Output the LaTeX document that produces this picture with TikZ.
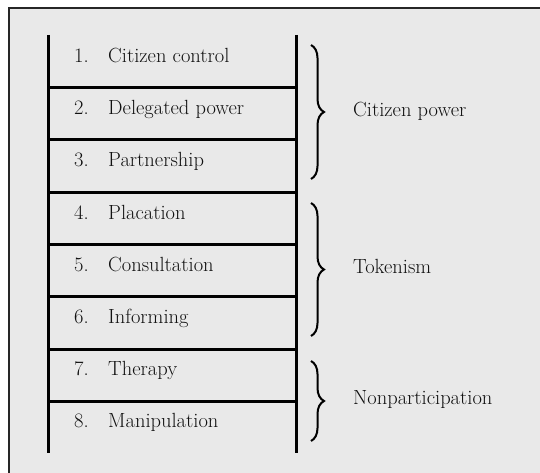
\documentclass[tikz,border=0pt]{standalone}
\usetikzlibrary{decorations.pathreplacing}
\definecolor{bgc}{HTML}{E9E9E9}
\definecolor{txt}{HTML}{111111}
\begin{document}
\begin{tikzpicture}[x=1pt,y=-1pt,
  rail/.style={line width=3pt,black},
  rung/.style={line width=3pt,black},
  lbl/.style={anchor=base west,inner sep=0pt,text=txt,font=\fontsize{20.5}{24}\selectfont},
  grp/.style={anchor=base west,inner sep=0pt,text=txt,font=\fontsize{20.5}{24}\selectfont},
  brc/.style={decorate,decoration={brace,amplitude=13pt,aspect=0.5},line width=2pt,black}]
\useasboundingbox (0,0) rectangle (540,473);
\fill[bgc] (9,8) rectangle (540,473);
\draw[line width=1.5pt,black!85] (9,473) -- (9,8) -- (540,8);
% rails
\coordinate (lt) at (48,35);
\coordinate (lb) at (48,453);
\coordinate (rt) at (296,35);
\coordinate (rb) at (296,453);
\draw[rail] (lt) -- (lb);
\draw[rail] (rt) -- (rb);
% rungs
\foreach \i/\y in {1/88,2/140,3/192,4/244,5/296,6/349,7/401}{
  \coordinate (a\i) at (48,\y);
  \coordinate (b\i) at (296,\y);
  \draw[rung] (a\i) -- (b\i);
}
% rows
\foreach \i/\y/\t in {1/63/Citizen control,2/115/Delegated power,3/167/Partnership,4/219/Placation,5/271/Consultation,6/323/Informing,7/375/Therapy,8/427/Manipulation}{
  \node[lbl] (n\i) at (74,\y) {\i.};
  \node[lbl] (t\i) at (108,\y) {\t};
}
% braces
\coordinate (c1t) at (311,45);
\coordinate (c1b) at (311,179);
\coordinate (c2t) at (311,203);
\coordinate (c2b) at (311,336);
\coordinate (c3t) at (311,361);
\coordinate (c3b) at (311,441);
\draw[brc] (c1t) -- (c1b);
\draw[brc] (c2t) -- (c2b);
\draw[brc] (c3t) -- (c3b);
\node[grp] (g1) at (353,117) {Citizen power};
\node[grp] (g2) at (353,273) {Tokenism};
\node[grp] (g3) at (353,404) {Nonparticipation};
\end{tikzpicture}
\end{document}
